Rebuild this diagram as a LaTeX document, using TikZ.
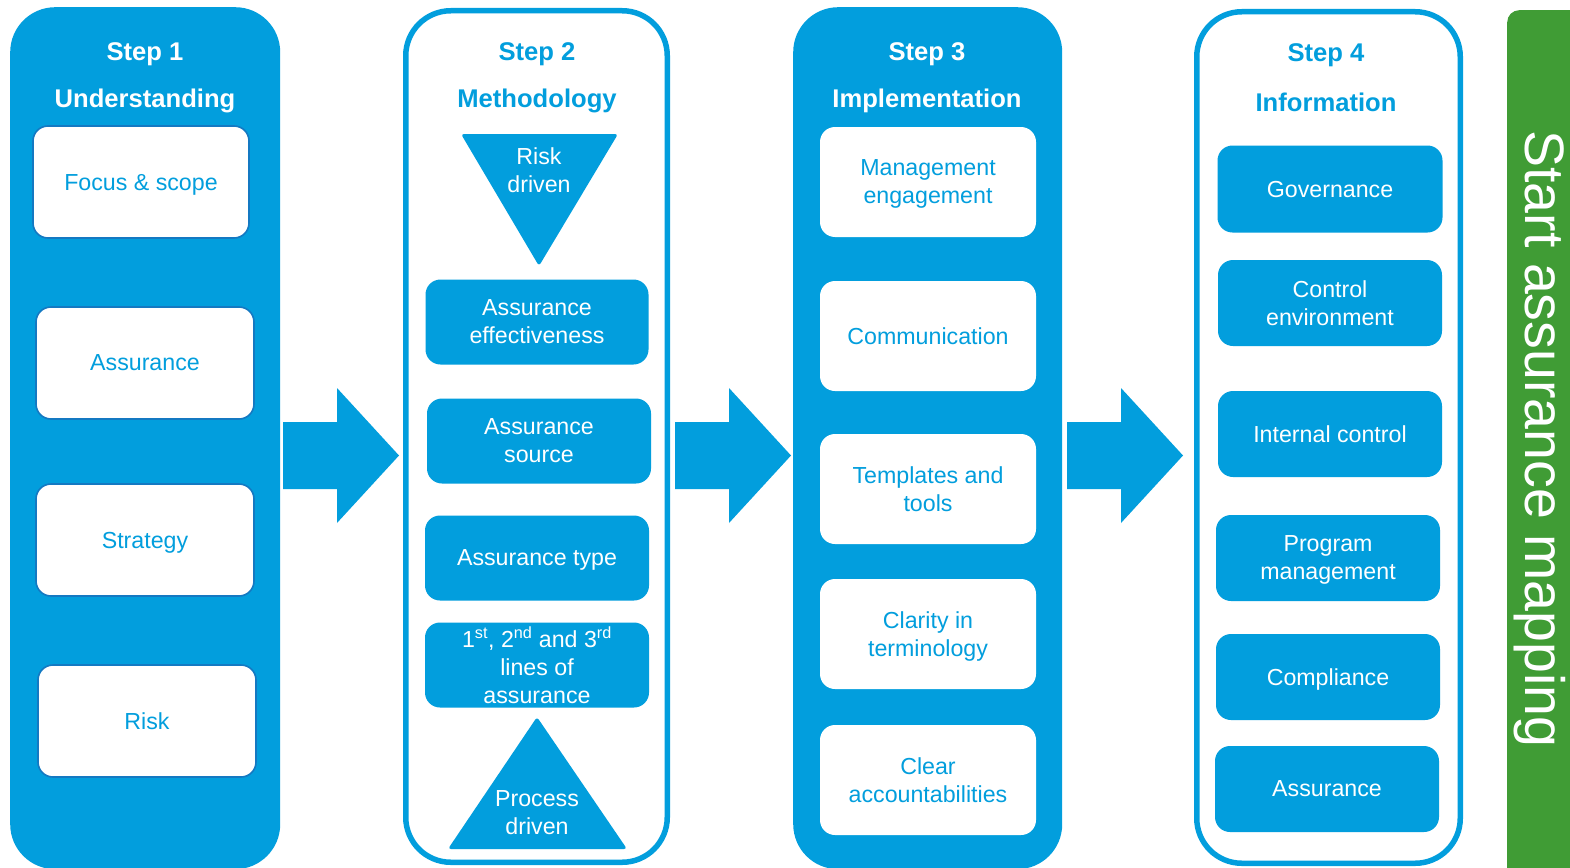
\documentclass[tikz,border=0pt]{standalone}
\usepackage{fontspec}
\setmainfont{Liberation Sans}
\definecolor{cblue}{HTML}{029EDD}
\definecolor{dblue}{HTML}{1479C2}
\definecolor{cgreen}{HTML}{409C35}
\tikzset{
  panelfill/.style={fill=cblue, draw=none, rounded corners=45pt},
  panelline/.style={fill=white, draw=cblue, line width=5.5pt, rounded corners=45pt},
  ttl/.style={font=\fontsize{25.6}{30}\selectfont\bfseries, inner sep=0pt},
  bodyfont/.style={font=\fontsize{23.2}{28}\selectfont, text depth=-3pt, align=center, inner sep=0pt},
  wbox/.style={bodyfont, fill=white, draw=dblue, line width=1.6pt, rounded corners=15pt, text=cblue},
  w3box/.style={bodyfont, fill=white, draw=none, rounded corners=15pt, text=cblue},
  bbox/.style={bodyfont, fill=cblue, draw=none, rounded corners=15pt, text=white},
  ttext/.style={bodyfont, text=white},
  bigarrow/.style={fill=cblue, draw=none},
}
\begin{document}
\begin{tikzpicture}[x=1pt,y=-1pt]
\useasboundingbox (0,0) rectangle (1570,867);
% panels
\node[panelfill, minimum width=270pt, minimum height=862pt, anchor=north west] (p1) at (10,7) {};
\node[panelline, minimum width=261.5pt, minimum height=851.5pt, anchor=north west] (p2) at (403,8) {};
\node[panelfill, minimum width=269pt, minimum height=862pt, anchor=north west] (p3) at (793,7) {};
\node[panelline, minimum width=263.5pt, minimum height=851.5pt, anchor=north west] (p4) at (1194,9) {};
\node[fill=cgreen, draw=none, rounded corners=12pt, minimum width=90pt, minimum height=870pt, anchor=north west] (gbar) at (1507,10) {};
\node[text=white, inner sep=0pt, rotate=-90, font=\fontsize{55.5}{60}\selectfont] (gtxt) at (1540,439) {Start assurance mapping};

% titles
\node[ttl, text=white] (t1a) at (145,54) {Step 1};
\node[ttl, text=white] (t1b) at (145,101) {Understanding};
\node[ttl, text=cblue] (t2a) at (537,54) {Step 2};
\node[ttl, text=cblue] (t2b) at (537,101) {Methodology};
\node[ttl, text=white] (t3a) at (927,54) {Step 3};
\node[ttl, text=white] (t3b) at (927,101) {Implementation};
\node[ttl, text=cblue] (t4a) at (1326,55) {Step 4};
\node[ttl, text=cblue] (t4b) at (1326,102) {Information};

% step 1 boxes
\node[wbox, minimum width=216pt, minimum height=112pt] (s1a) at (141,182) {Focus \& scope};
\node[wbox, minimum width=218pt, minimum height=112pt] (s1b) at (145,363) {Assurance};
\node[wbox, minimum width=218pt, minimum height=112pt] (s1c) at (145,540) {Strategy};
\node[wbox, minimum width=218pt, minimum height=112pt] (s1d) at (147,721) {Risk};

% step 2
\coordinate (rt1) at (461,134);
\coordinate (rt2) at (618,134);
\coordinate (rt3) at (539,266);
\fill[cblue, rounded corners=3pt] (rt1) -- (rt2) -- (rt3) -- cycle;
\node[ttext] (rtxt) at (539,170) {Risk\\driven};
\node[bbox, minimum width=223pt, minimum height=85pt] (s2a) at (537,322) {Assurance\\effectiveness};
\node[bbox, minimum width=224pt, minimum height=85pt] (s2b) at (539,441) {Assurance\\source};
\node[bbox, minimum width=224pt, minimum height=85pt] (s2c) at (537,558) {Assurance type};
\node[bbox, minimum width=224pt, minimum height=85pt] (s2d) at (537,665) {1\textsuperscript{st}, 2\textsuperscript{nd} and 3\textsuperscript{rd}\\lines of\\assurance};
\coordinate (pt1) at (537,717);
\coordinate (pt2) at (627,849);
\coordinate (pt3) at (448,849);
\fill[cblue, rounded corners=3pt] (pt1) -- (pt2) -- (pt3) -- cycle;
\node[ttext] (ptxt) at (537,813) {Process\\driven};

% step 3
\node[w3box, minimum width=216pt, minimum height=110pt] (s3a) at (928,182) {Management\\engagement};
\node[w3box, minimum width=216pt, minimum height=110pt] (s3b) at (928,336) {Communication};
\node[w3box, minimum width=216pt, minimum height=110pt] (s3c) at (928,489) {Templates and\\tools};
\node[w3box, minimum width=216pt, minimum height=110pt] (s3d) at (928,634) {Clarity in\\terminology};
\node[w3box, minimum width=216pt, minimum height=110pt] (s3e) at (928,780) {Clear\\accountabilities};

% step 4
\node[bbox, minimum width=225pt, minimum height=87pt] (s4a) at (1330,189) {Governance};
\node[bbox, minimum width=224pt, minimum height=86pt] (s4b) at (1330,303) {Control\\environment};
\node[bbox, minimum width=224pt, minimum height=86pt] (s4c) at (1330,434) {Internal control};
\node[bbox, minimum width=224pt, minimum height=86pt] (s4d) at (1328,558) {Program\\management};
\node[bbox, minimum width=224pt, minimum height=86pt] (s4e) at (1328,677) {Compliance};
\node[bbox, minimum width=224pt, minimum height=86pt] (s4f) at (1327,789) {Assurance};

% arrows
\foreach \ax/\nm in {283/a1, 675/a2, 1067/a3} {
  \fill[bigarrow] (\ax,422) -- (\ax+54,422) -- (\ax+54,388) -- (\ax+116,455.5) -- (\ax+54,523) -- (\ax+54,489) -- (\ax,489) -- cycle;
}
\end{tikzpicture}
\end{document}
